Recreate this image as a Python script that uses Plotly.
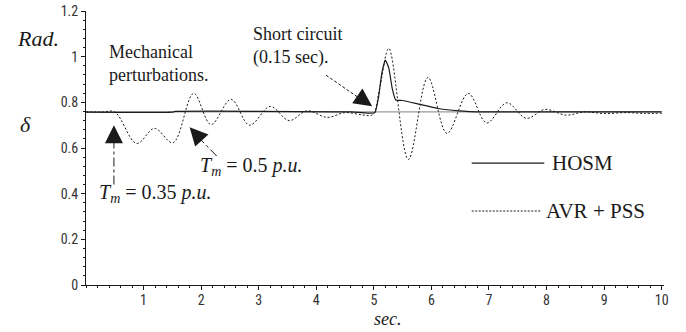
import plotly.graph_objects as go

# ---- data ----
time_avr = [0.0, 0.3, 0.5, 0.88, 1.19, 1.51, 1.87, 2.17, 2.52, 2.84, 3.2, 3.53, 3.84, 4.19,
            4.5, 4.8, 4.98, 5.1, 5.26, 5.6, 5.94, 6.27, 6.64, 6.96, 7.31, 7.65, 7.97, 8.34,
            8.66, 9.0, 9.4, 9.7, 10.0]
delta_avr = [0.758, 0.758, 0.758, 0.62, 0.686, 0.623, 0.839, 0.703, 0.813, 0.70, 0.782, 0.72,
             0.763, 0.734, 0.755, 0.745, 0.746, 0.86, 1.036, 0.55, 0.909, 0.664, 0.839, 0.71,
             0.798, 0.73, 0.769, 0.744, 0.758, 0.751, 0.755, 0.751, 0.752]

time_hosm = [0.0, 1.5, 1.55, 4.6, 4.95, 5.02, 5.08, 5.14, 5.2, 5.26, 5.32, 5.38, 5.5, 5.78,
             6.12, 6.47, 6.9, 10.0]
delta_hosm = [0.757, 0.757, 0.760, 0.758, 0.753, 0.755, 0.82, 0.93, 0.985, 0.95, 0.86, 0.81,
              0.808, 0.792, 0.773, 0.763, 0.758, 0.758]

time_ref = [0.0, 10.0]
delta_ref = [0.758, 0.758]

x_ticks = [1, 2, 3, 4, 5, 6, 7, 8, 9, 10]
y_ticks = [0, 0.2, 0.4, 0.6, 0.8, 1, 1.2]
y_tick_text = ["0", "0.2", "0.4", "0.6", "0.8", "1", "1.2"]

legend_names = ["HOSM", "AVR + PSS"]

SERIF = "Liberation Serif"
NARROW = "Roboto Condensed"
INK = "#1a1a1a"

fig = go.Figure()
fig.add_trace(go.Scatter(x=time_ref, y=delta_ref, mode="lines",
                         line=dict(color="#9a9a9a", width=1.2), showlegend=False, hoverinfo="skip"))
fig.add_trace(go.Scatter(x=time_avr, y=delta_avr, mode="lines", name=legend_names[1],
                         line=dict(color=INK, width=1, dash="2px,2px", shape="spline", smoothing=1.0),
                         showlegend=False))
fig.add_trace(go.Scatter(x=time_hosm, y=delta_hosm, mode="lines", name=legend_names[0],
                         line=dict(color=INK, width=1.2, shape="spline", smoothing=0.4),
                         showlegend=False))

shapes = []
# arrow shafts
shapes.append(dict(type="line", xref="x", yref="y", x0=0.485, y0=0.44, x1=0.485, y1=0.66,
                   line=dict(color=INK, width=1, dash="dashdot")))
shapes.append(dict(type="line", xref="x", yref="y", x0=2.27, y0=0.565, x1=1.9, y1=0.66,
                   line=dict(color=INK, width=1, dash="dashdot")))
shapes.append(dict(type="line", xref="x", yref="y", x0=4.17, y0=0.919, x1=4.85, y1=0.8,
                   line=dict(color=INK, width=1, dash="3px,2px")))
# legend sample lines
shapes.append(dict(type="line", xref="x", yref="y", x0=6.70, y0=0.534, x1=7.96, y1=0.534,
                   line=dict(color=INK, width=1.3)))
shapes.append(dict(type="line", xref="x", yref="y", x0=6.70, y0=0.324, x1=7.89, y1=0.324,
                   line=dict(color=INK, width=1, dash="2px,1.5px")))

ann = []
def txt(x, y, text, size, xanchor="left", yanchor="middle", align="left"):
    ann.append(dict(x=x, y=y, xref="x", yref="y", text=text, showarrow=False,
                    xanchor=xanchor, yanchor=yanchor, align=align,
                    font=dict(family=SERIF, size=size, color=INK)))

def head(x, y, ax, ay):
    ann.append(dict(x=x, y=y, xref="x", yref="y", text=" ", showarrow=True,
                    ax=ax, ay=ay, arrowhead=2, arrowsize=3, arrowwidth=1.2,
                    arrowcolor=INK, standoff=0, font=dict(size=1)))

txt(0.36, 0.972, "Mechanical<br>perturbations.", 18)
txt(2.87, 1.046, "Short circuit<br>(0.15 sec).", 18)
txt(1.94, 0.52, "<i>T<sub>m</sub></i> = 0.5 <i>p.u.</i>", 20)
txt(0.19, 0.40, "<i>T<sub>m</sub></i> = 0.35 <i>p.u.</i>", 20)
txt(8.06, 0.534, legend_names[0], 21)
txt(7.95, 0.324, legend_names[1], 21)

head(0.485, 0.70, 0, 16)
head(1.80, 0.691, 11, 12)
head(4.97, 0.783, -13, -9)

# axis titles
ann.append(dict(xref="paper", yref="paper", x=(15 - 86) / 578, y=(285 - 38) / 274, text="<i>Rad.</i>",
                showarrow=False, xanchor="left", yanchor="middle",
                font=dict(family=SERIF, size=22, color=INK)))
ann.append(dict(xref="paper", yref="paper", x=(18 - 86) / 578, y=(285 - 124) / 274, text="<i>δ</i>",
                showarrow=False, xanchor="left", yanchor="middle",
                font=dict(family=SERIF, size=22, color=INK)))
ann.append(dict(xref="paper", yref="paper", x=(372 - 86) / 578, y=(285 - 319) / 274, text="<i>sec.</i>",
                showarrow=False, xanchor="left", yanchor="middle",
                font=dict(family=SERIF, size=18, color=INK)))

fig.update_layout(
    width=686, height=332,
    margin=dict(l=86, r=22, t=11, b=47, pad=0, autoexpand=False),
    paper_bgcolor="white", plot_bgcolor="white",
    shapes=shapes, annotations=ann,
    xaxis=dict(range=[0, 10.04], tickvals=x_ticks, ticktext=[str(v) for v in x_ticks],
               showgrid=False, zeroline=False, showline=True, linecolor=INK, linewidth=1,
               ticks="outside", ticklen=4, tickcolor=INK, tickwidth=1, ticklabelstandoff=-2,
               automargin=False,
               minor=dict(dtick=0.2, ticks="outside", ticklen=2, tickcolor=INK, tickwidth=1),
               tickfont=dict(family=NARROW, size=14, color="#333")),
    yaxis=dict(range=[0, 1.2], tickvals=y_ticks, ticktext=y_tick_text,
               showgrid=False, zeroline=False, showline=True, linecolor=INK, linewidth=1,
               ticks="outside", ticklen=4, tickcolor=INK, tickwidth=1, automargin=False,
               minor=dict(dtick=0.04, ticks="outside", ticklen=2, tickcolor=INK, tickwidth=1),
               tickfont=dict(family=NARROW, size=14, color="#333")),
    showlegend=False,
)

fig.write_html("out.html", config={"displayModeBar": False},
               post_script="document.body.style.margin='0px';document.body.style.overflow='hidden';")
